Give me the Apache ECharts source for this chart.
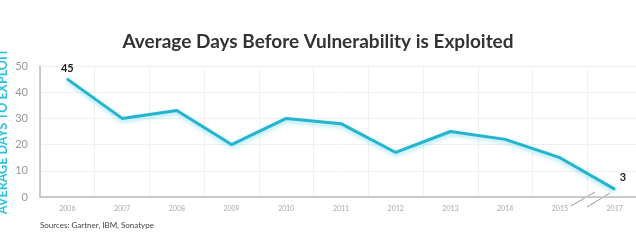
<!DOCTYPE html>
<html>
<head>
<meta charset="utf-8">
<script src="https://cdn.jsdelivr.net/npm/echarts@6/dist/echarts.min.js"></script>
<style>
  html, body { margin: 0; padding: 0; background: #fff; }
  #chart { width: 636px; height: 249px; }
</style>
</head>
<body>
<div id="chart"></div>
<script>
const years = ['2006', '2007', '2008', '2009', '2010', '2011', '2012', '2013', '2014', '2015', '2017'];
const days = [45, 30, 33, 20, 30, 28, 17, 25, 22, 15, 3];
const yTicks = [0, 10, 20, 30, 40, 50];

const chart = echarts.init(document.getElementById('chart'));

// only first and last points carry a value label
const points = days.map((v, i) => {
  const last = i === days.length - 1;
  return {
    value: v,
    label: {
      show: i === 0 || last,
      position: last ? 'right' : 'top',
      offset: last ? [0, -12] : [0, 0]
    }
  };
});

chart.setOption({
  animation: false,
  title: {
    text: 'Average Days Before Vulnerability is Exploited',
    left: 'center',
    top: 27,
    textStyle: { fontFamily: 'Lato', fontWeight: 'bold', fontSize: 19, color: '#333' }
  },
  graphic: [
    {
      type: 'text', left: 40, top: 221,
      style: { text: 'Sources: Gartner, IBM, Sonatype', fontFamily: 'Lato', fontSize: 8, fill: '#444' }
    },
    // axis break marks between 2015 and 2017
    { type: 'line', shape: { x1: 571, y1: 206, x2: 595, y2: 192 }, style: { stroke: '#999', lineWidth: 1 } },
    { type: 'line', shape: { x1: 587, y1: 207, x2: 610, y2: 193 }, style: { stroke: '#999', lineWidth: 1 } }
  ],
  grid: { left: 40, top: 66, width: 602, height: 131, outerBoundsMode: 'none' },
  xAxis: {
    type: 'category',
    data: years,
    boundaryGap: true,
    axisLine: { lineStyle: { color: '#bbb', width: 1.5 } },
    axisTick: { show: false },
    axisLabel: { color: '#aaa', fontSize: 7, fontFamily: 'Lato', margin: 8, interval: 0 },
    splitLine: { show: true, interval: 0, lineStyle: { color: '#f0f0f0' } }
  },
  yAxis: {
    type: 'value',
    min: yTicks[0],
    max: yTicks[yTicks.length - 1],
    interval: 10,
    name: 'AVERAGE DAYS TO EXPLOIT',
    nameLocation: 'middle',
    nameRotate: 90,
    nameGap: 31,
    nameMoveOverlap: false,
    nameTextStyle: { color: '#2cc0dd', fontSize: 12.5, fontWeight: 'bold', fontFamily: 'Lato' },
    axisLine: { show: true, lineStyle: { color: '#bbb', width: 1.5 } },
    axisTick: { show: false },
    axisLabel: { color: '#999', fontSize: 11, fontFamily: 'Lato', margin: 12 },
    splitLine: { lineStyle: { color: '#f0f0f0' } }
  },
  series: [{
    type: 'line',
    data: points,
    symbol: 'circle',
    symbolSize: 2,
    showSymbol: true,
    itemStyle: { color: '#26b3cf' },
    lineStyle: {
      color: '#26b3cf',
      width: 3,
      shadowColor: 'rgba(80,210,235,0.6)',
      shadowBlur: 4,
      shadowOffsetY: 2
    },
    label: {
      show: true,
      color: '#222',
      fontWeight: 'bold',
      fontSize: 11,
      fontFamily: 'Lato',
      distance: 4
    }
  }]
});
</script>
</body>
</html>
